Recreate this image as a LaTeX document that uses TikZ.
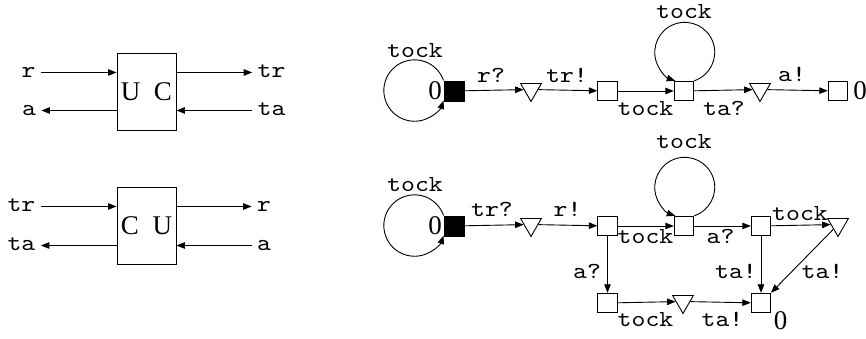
\documentclass[tikz,border=0pt]{standalone}
\usepackage{fontspec}
\setmainfont{Liberation Serif}
\newfontfamily\courlike{lmmono10-regular.otf}[FakeStretch=1.15]
\usetikzlibrary{arrows.meta,shapes.geometric}
\begin{document}
\begin{tikzpicture}[x=1pt,y=1pt,
  line width=0.9pt,
  lbl/.style={font=\courlike\fontsize{23}{23}\selectfont, inner sep=0pt, text height=9.5pt, text depth=0pt},
  num/.style={font=\fontsize{27}{27}\selectfont, inner sep=0pt, anchor=base},
  arr/.style={-{Triangle[length=8.5pt,width=6.5pt]}},
  unit/.style={draw, minimum width=59pt, minimum height=77pt, inner sep=0pt, font=\fontsize{27}{27}\selectfont},
  st/.style={draw, minimum size=19.5pt, inner sep=0pt},
  init/.style={draw, fill=black, minimum size=20pt, inner sep=0pt},
  tri/.style={draw, regular polygon, regular polygon sides=3, shape border rotate=180, minimum size=24pt, inner sep=0pt},
]
\useasboundingbox (0,0) rectangle (866,339);

% ---------- component U C ----------
\node[unit] (uc) at (146.5,247.5) {U~~C};
\node[lbl] (uc-r)  at (28.5,266.5) {r};
\node[lbl] (uc-a)  at (29,228.5) {a};
\node[lbl] (uc-tr) at (271.5,266.5) {tr};
\node[lbl] (uc-ta) at (271.5,228.5) {ta};
\draw[arr, shorten <=5pt] (uc-r.east) -- (uc-r.east -| uc.west);
\draw[arr, shorten >=5pt] (uc-a.east -| uc.west) -- (uc-a.east);
\draw[arr, shorten >=5pt] (uc-tr.west -| uc.east) -- (uc-tr.west);
\draw[arr, shorten <=5pt] (uc-ta.west) -- (uc-ta.west -| uc.east);

% ---------- component C U ----------
\node[unit] (cu) at (146.5,113.5) {C~~U};
\node[lbl] (cu-tr) at (21.5,132.5) {tr};
\node[lbl] (cu-ta) at (21.5,93.5) {ta};
\node[lbl] (cu-r)  at (264,132.5) {r};
\node[lbl] (cu-a)  at (264,93.5) {a};
\draw[arr, shorten <=5pt] (cu-tr.east) -- (cu-tr.east -| cu.west);
\draw[arr, shorten >=5pt] (cu-ta.east -| cu.west) -- (cu-ta.east);
\draw[arr, shorten >=5pt] (cu-r.west -| cu.east) -- (cu-r.west);
\draw[arr, shorten <=5pt] (cu-a.west) -- (cu-a.west -| cu.east);

% ---------- process for U C ----------
\node[init] (b1) at (454,248) {};
\node[tri]  (t1) at (531,249.5) {};
\node[st]   (s1) at (607.5,248) {};
\node[st]   (s2) at (684,248) {};
\node[tri]  (t2) at (760,249.5) {};
\node[st]   (s3) at (838,248) {};

\draw[arr] (b1.north west) arc[start angle=19, end angle=341, radius=30.7];
\draw[arr] (s2.north east) arc[start angle=-71.6, end angle=251.6, radius=30];
\draw[arr] (b1) -- (t1);
\draw[arr] (t1) -- (s1);
\draw[arr] (s1) -- (s2);
\draw[arr] (s2) -- (t2);
\draw[arr] (t2) -- (s3);

\node[num] (z1) at (435,239) {0};
\node[num] (z2) at (860,239) {0};
\node[lbl] (l1) at (415,286.5) {tock};
\node[lbl] (l2) at (491,261.5) {r?};
\node[lbl] (l3) at (567,261.5) {tr!};
\node[lbl] (l4) at (684,325) {tock};
\node[lbl] (l5) at (645.5,228.5) {tock};
\node[lbl] (l6) at (724,228.5) {ta?};
\node[lbl] (l7) at (792,261.8) {a!};

% ---------- process for C U ----------
\node[init] (b2) at (454,113) {};
\node[tri]  (t3) at (531,114.5) {};
\node[st]   (s4) at (607.5,113) {};
\node[st]   (s5) at (684,113) {};
\node[st]   (s6) at (761,113) {};
\node[tri]  (t4) at (838,114.5) {};
\node[st]   (s7) at (607.5,36) {};
\node[tri]  (t5) at (683,37.5) {};
\node[st]   (s8) at (761,36) {};

\draw[arr] (b2.north west) arc[start angle=19, end angle=341, radius=30.7];
\draw[arr] (s5.north east) arc[start angle=-71.6, end angle=251.6, radius=30];
\draw[arr] (b2) -- (t3);
\draw[arr] (t3) -- (s4);
\draw[arr] (s4) -- (s5);
\draw[arr] (s5) -- (s6);
\draw[arr] (s6) -- (t4);
\draw[arr] (s4) -- (s7);
\draw[arr] (s6) -- (s8);
\draw[arr] (t4) -- (s8);
\draw[arr] (s7) -- (t5);
\draw[arr] (t5) -- (s8);

\node[num] (z3) at (435,104) {0};
\node[num] (z4) at (780.5,9) {0};
\node[lbl] (m1)  at (415,151.8) {tock};
\node[lbl] (m2)  at (492,126.8) {tr?};
\node[lbl] (m3)  at (567.5,126.8) {r!};
\node[lbl] (m4)  at (684,195.2) {tock};
\node[lbl] (m5)  at (645.5,100.2) {tock};
\node[lbl] (m6)  at (720.5,100.2) {a?};
\node[lbl] (m7)  at (800,123.5) {tock};
\node[lbl] (m8)  at (587,65.2) {a?};
\node[lbl] (m9)  at (736,65.2) {ta!};
\node[lbl] (m10) at (822.5,65.2) {ta!};
\node[lbl] (m11) at (645.5,16.8) {tock};
\node[lbl] (m12) at (722.5,16.8) {ta!};
\end{tikzpicture}
\end{document}
